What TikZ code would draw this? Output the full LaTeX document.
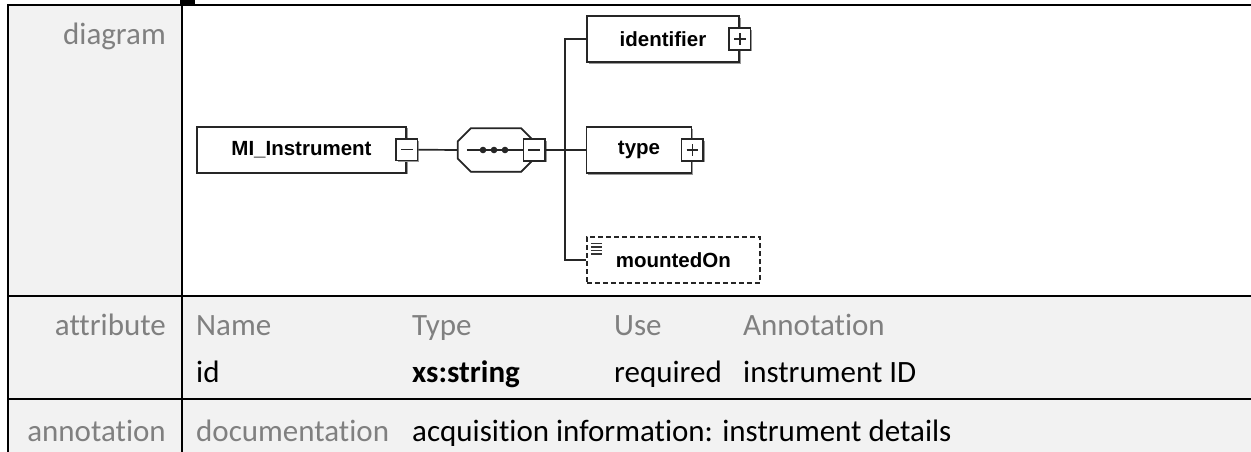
\documentclass[tikz,border=0pt]{standalone}
\usepackage{fontspec}
\setmainfont{Carlito}[Ligatures={NoCommon}]
\newfontfamily\diafont{Liberation Sans}
\usetikzlibrary{calc,shadows}
\definecolor{cellgrey}{RGB}{242,242,242}
\definecolor{labelgrey}{RGB}{128,128,128}
\newcommand{\cellfont}{\fontsize{31}{37}\selectfont}

\begin{document}
\begin{tikzpicture}[
			x=1pt,y=-1pt,
			tabline/.style={
				draw=black,
				line width=2pt
			},
			rowlabel/.style={
				anchor=base east,
				inner sep=0pt,
				text=labelgrey,
				font=\cellfont
			},
			colhead/.style={
				anchor=base west,
				inner sep=0pt,
				text=labelgrey,
				font=\cellfont
			},
			cellval/.style={
				anchor=base west,
				inner sep=0pt,
				text=black,
				font=\cellfont
			},
			diagline/.style={
				draw=black!85,
				line width=1.7pt
			},
			boxshadow/.style={
				drop shadow={shadow xshift=1.6pt,shadow yshift=-1.6pt,fill=black!40,opacity=1}
			},
			elbox/.style={
				diagline,
				fill=white,
				inner sep=0pt,
				minimum height=46pt,
				font=\diafont\bfseries\fontsize{20.5}{24}\selectfont
			},
			pmbox/.style={
				diagline,
				fill=white,
				boxshadow,
				inner sep=0pt,
				minimum width=21.5pt,
				minimum height=21.5pt
			},
			minusbox/.style={
				pmbox,
				path picture={
					\draw[line width=1.3pt,black!85]
					([xshift=5pt]path picture bounding box.west) --
					([xshift=-5pt]path picture bounding box.east);
				}
			},
			plusbox/.style={
				pmbox,
				path picture={
					\draw[line width=1.3pt,black!85]
					([xshift=5pt]path picture bounding box.west) --
					([xshift=-5pt]path picture bounding box.east);
					\draw[line width=1.3pt,black!85]
					([yshift=-5pt]path picture bounding box.north) --
					([yshift=5pt]path picture bounding box.south);
				}
			}
			]
			
			\useasboundingbox (0,0) rectangle (1251,452);
			
			% Table cells
			\fill[cellgrey] (8,5.5) rectangle (182,452);
			\fill[cellgrey] (182,296) rectangle (1251,452);
			\fill[black] (180,0) rectangle (195,4.5);
			
			\draw[tabline] (8,452) -- (8,5.5) -- (1251,5.5);
			\draw[tabline] (182,5.5) -- (182,452);
			\draw[tabline] (8,296) -- (1251,296);
			\draw[tabline] (8,399) -- (1251,399);
			
			% Row labels
			\node[rowlabel] (lbldiagram) at (166,45) {diagram};
			\node[rowlabel] (lblattr) at (166,335) {attribute};
			\node[rowlabel] (lblannot) at (166,441) {annotation};
			
			% Attribute row
			\node[colhead] (hdname) at (196,335) {Name};
			\node[colhead] (hdtype) at (412,335) {Type};
			\node[colhead] (hduse) at (614,335) {Use};
			\node[colhead] (hdannot) at (743,335) {Annotation};
			
			\node[cellval] (valname) at (196,382) {id};
			\node[cellval,font=\cellfont\bfseries] (valtype) at (412,382) {xs:string};
			\node[cellval] (valuse) at (614,382) {required};
			\node[cellval] (valannot) at (743,382) {instrument ID};
			
			% Annotation row
			\node[colhead] (hddoc) at (196,441) {documentation};
			\node[cellval] (valdoc) at (412,441) {acquisition information: instrument details};
			
			% Diagram: element
			\node[elbox,boxshadow,minimum width=209pt] (inst) at (301.5,149.7) {MI\_Instrument};
			\node[minusbox] (instminus) at (inst.east) {};
			
			% Diagram: sequence
			\node[inner sep=0pt,minimum width=76pt,minimum height=43pt] (seq) at (496,150) {};
			\draw[diagline,draw=black!40,shift={(1.6,1.6)}]
			($(seq.north east)+(0,13)$) -- ($(seq.south east)+(0,-13)$) --
			($(seq.south east)+(-13,0)$) -- ($(seq.south west)+(13,0)$);
			\draw[diagline,fill=white]
			($(seq.north west)+(13,0)$) -- ($(seq.north east)+(-13,0)$) --
			($(seq.north east)+(0,13)$) -- ($(seq.south east)+(0,-13)$) --
			($(seq.south east)+(-13,0)$) -- ($(seq.south west)+(13,0)$) --
			($(seq.south west)+(0,-13)$) -- ($(seq.north west)+(0,13)$) -- cycle;
			\node[minusbox] (seqminus) at (seq.east) {};
			\draw[diagline] ($(seq.west)+(9,0)$) -- (seqminus.west);
			\foreach \dx in {-13,-2,9}
			\fill[black!85] ($(seq.center)+(\dx,0)$) circle (3.3pt);
			
			% Diagram: children
			\node[elbox,boxshadow,minimum width=152pt] (ident) at (663,39) {identifier};
			\node[plusbox] (identplus) at (ident.east) {};
			
			\node[elbox,boxshadow,minimum width=105pt] (typeb) at (639,150) {type};
			\node[plusbox] (typeplus) at (typeb.east) {};
			
			\node[elbox,dash pattern=on 5pt off 3pt,minimum width=173pt] (mounted) at (673.3,260.3) {mountedOn};
			\foreach \dy in {7,10.5,14,17.5}
			\draw[line width=1.1pt,black!80] ($(mounted.north west)+(5,\dy)$) -- ++(11,0);
			
			% Connectors
			\coordinate (trunk) at (565,150);
			
			\draw[diagline] (instminus.east) -- (seq.west);
			\draw[diagline] (seqminus.east) -- (typeb.west);
			\draw[diagline]
			(ident.west) -- (ident.west -| trunk) --
			(mounted.west -| trunk) -- (mounted.west);
			
		\end{tikzpicture}
\end{document}
